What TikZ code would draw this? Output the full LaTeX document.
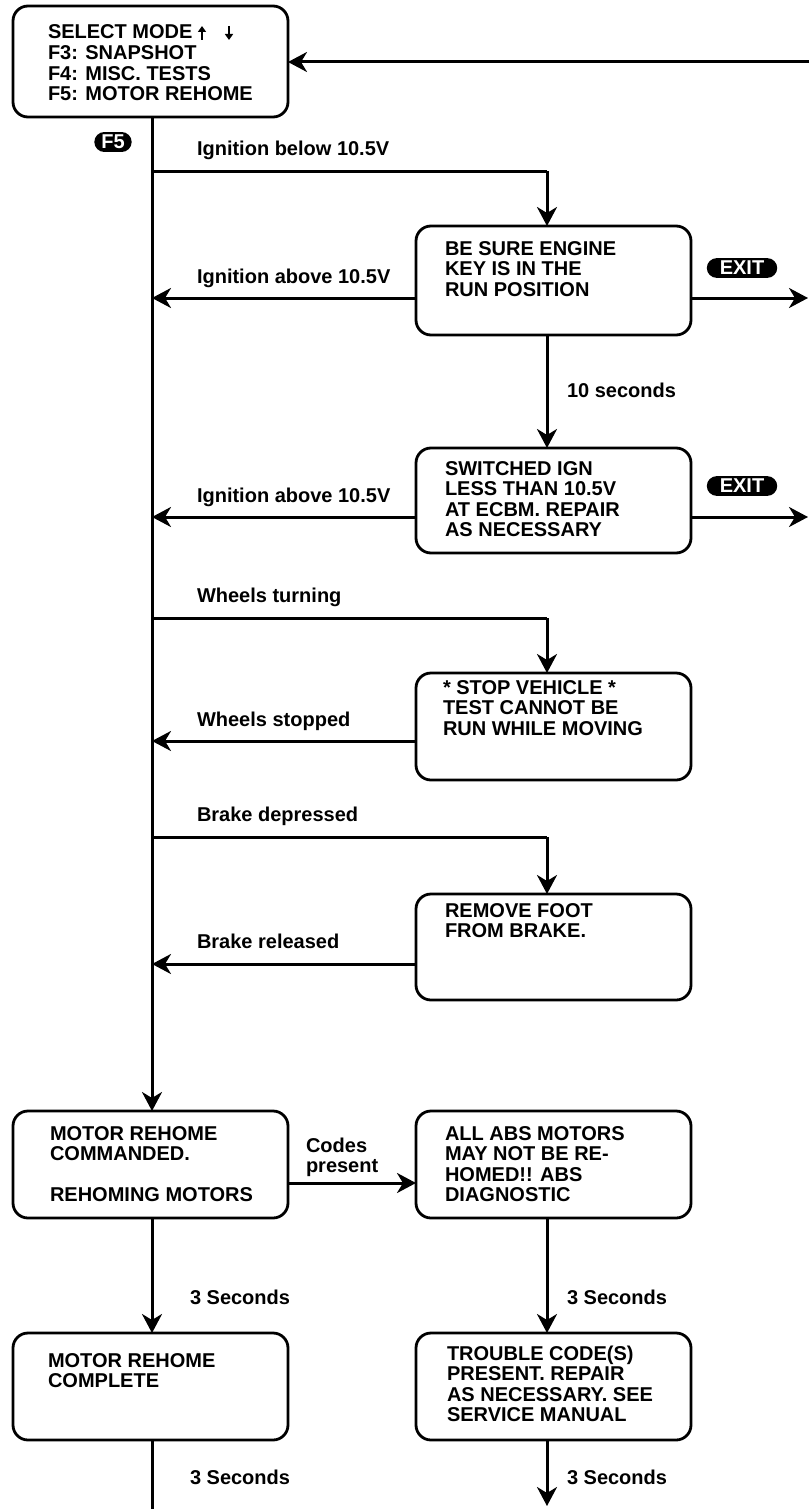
\documentclass[tikz,border=0pt]{standalone}
\usepackage{fontspec}
\setmainfont{Liberation Sans}
\usetikzlibrary{arrows.meta}
\begin{document}
\begin{tikzpicture}[x=1pt,y=-1pt,
  every node/.style={font=\fontsize{20}{20.5}\selectfont\bfseries, inner sep=0pt, outer sep=0pt},
  box/.style={draw, line width=2.8pt, rounded corners=15pt, minimum width=275pt},
  txt/.style={anchor=north west, align=left, yshift=14.35pt},
  lbl/.style={anchor=base west},
  wire/.style={line width=3pt},
  arr/.style={line width=3pt, -{Stealth[length=19pt,width=20pt,inset=6pt]}},
  keyicon/.style={fill=black, text=white, rounded corners=10pt, inner xsep=7pt, inner ysep=3pt, font=\fontsize{20}{20}\selectfont\bfseries},
  tinyarr/.style={line width=1.5pt, -{Triangle[length=6pt,width=8pt]}},
]
\useasboundingbox (0,0) rectangle (809,1509);

% boxes
\node[box, minimum height=111pt] (b1) at (150.5,61.5) {};
\node[box, minimum height=109pt] (b2) at (553.5,280.5) {};
\node[box, minimum height=105pt] (b3) at (553.5,500.5) {};
\node[box, minimum height=107pt] (b4) at (553.5,726.5) {};
\node[box, minimum height=106pt] (b5) at (553.5,947) {};
\node[box, minimum height=107pt] (b6) at (150.5,1164.5) {};
\node[box, minimum height=107pt] (b7) at (553.5,1164.5) {};
\node[box, minimum height=107pt] (b8) at (150.5,1386.5) {};
\node[box, minimum height=107pt] (b9) at (553.5,1386.5) {};

% box texts (coordinate = first baseline)
\node[txt] (t1) at (48,39) {\strut SELECT MODE\\F3: SNAPSHOT\\F4: MISC. TESTS\\F5: MOTOR REHOME};
\node[txt] (t2) at (445,255) {\strut BE SURE ENGINE\\KEY IS IN THE\\RUN POSITION};
\node[txt] (t3) at (445,475) {\strut SWITCHED IGN\\LESS THAN 10.5V\\AT ECBM. REPAIR\\AS NECESSARY};
\node[txt] (t4) at (443,694) {\strut * STOP VEHICLE *\\TEST CANNOT BE\\RUN WHILE MOVING};
\node[txt] (t5) at (445,917) {\strut REMOVE FOOT\\FROM BRAKE.};
\node[txt] (t6) at (50,1140) {\strut MOTOR REHOME\\COMMANDED.\\[20.5pt]REHOMING MOTORS};
\node[txt] (t7) at (445,1140) {\strut ALL ABS MOTORS\\MAY NOT BE RE-\\HOMED!! ABS\\DIAGNOSTIC};
\node[txt] (t8) at (48,1367) {\strut MOTOR REHOME\\COMPLETE};
\node[txt] (t9) at (447,1360) {\strut TROUBLE CODE(S)\\PRESENT. REPAIR\\AS NECESSARY. SEE\\SERVICE MANUAL};

% small arrows in first box
\coordinate (ua1) at (202,40); \coordinate (ua2) at (202,26);
\coordinate (da1) at (229,26); \coordinate (da2) at (229,40);
\draw[tinyarr] (ua1) -- (ua2);
\draw[tinyarr] (da1) -- (da2);

% key icons
\node[keyicon] (f5) at (113,142) {F5};
\node[keyicon, inner xsep=13pt] (ex1) at (742,268) {EXIT};
\node[keyicon, inner xsep=13pt] (ex2) at (742,486) {EXIT};

% main spine coordinates
\coordinate (m1) at (152,171);
\coordinate (m2) at (152,298);
\coordinate (m3) at (152,517);
\coordinate (m4) at (152,618);
\coordinate (m5) at (152,741);
\coordinate (m6) at (152,837);
\coordinate (m7) at (152,964);
\coordinate (r1) at (547,171);
\coordinate (r4) at (547,618);
\coordinate (r6) at (547,837);

\draw[arr] (b1.south -| m1) -- (b6.north -| m1);
\draw[wire] (m1) -- (r1);
\draw[arr] (r1) -- (b2.north -| r1);
\draw[wire] (m4) -- (r4);
\draw[arr] (r4) -- (b4.north -| r4);
\draw[wire] (m6) -- (r6);
\draw[arr] (r6) -- (b5.north -| r6);

\draw[arr] (b2.west |- m2) -- (m2);
\draw[arr] (b3.west |- m3) -- (m3);
\draw[arr] (b4.west |- m5) -- (m5);
\draw[arr] (b5.west |- m7) -- (m7);

\draw[arr] (b2.south -| r1) -- (b3.north -| r1);

% exits
\coordinate (e1) at (808,298);
\coordinate (e2) at (808,517);
\draw[arr] (b2.east |- e1) -- (e1);
\draw[arr] (b3.east |- e2) -- (e2);

% return arrow to first box
\coordinate (ret) at (809,62);
\draw[arr] (ret) -- (b1.east |- ret);

% lower part
\coordinate (c1) at (288,1183);
\draw[arr] (b6.east |- c1) -- (b7.west |- c1);
\draw[arr] (b6.south -| m1) -- (b8.north -| m1);
\draw[arr] (b7.south -| r1) -- (b9.north -| r1);
\coordinate (endL) at (152,1509);
\coordinate (endR) at (547,1506);
\draw[wire] (b8.south -| m1) -- (endL);
\draw[arr] (b9.south -| r1) -- (endR);

% labels
\node[lbl] (l1) at (197,155) {Ignition below 10.5V};
\node[lbl] (l2) at (197,283) {Ignition above 10.5V};
\node[lbl] (l3) at (197,502) {Ignition above 10.5V};
\node[lbl] (l4) at (197,602) {Wheels turning};
\node[lbl] (l5) at (197,726) {Wheels stopped};
\node[lbl] (l6) at (197,821) {Brake depressed};
\node[lbl] (l7) at (197,948) {Brake released};
\node[lbl] (l8) at (567,397) {10 seconds};
\node[txt] (l9) at (306,1152) {\strut Codes\\present};
\node[lbl] (l10) at (190,1304) {3 Seconds};
\node[lbl] (l11) at (567,1304) {3 Seconds};
\node[lbl] (l12) at (190,1484) {3 Seconds};
\node[lbl] (l13) at (567,1484) {3 Seconds};
\end{tikzpicture}
\end{document}
